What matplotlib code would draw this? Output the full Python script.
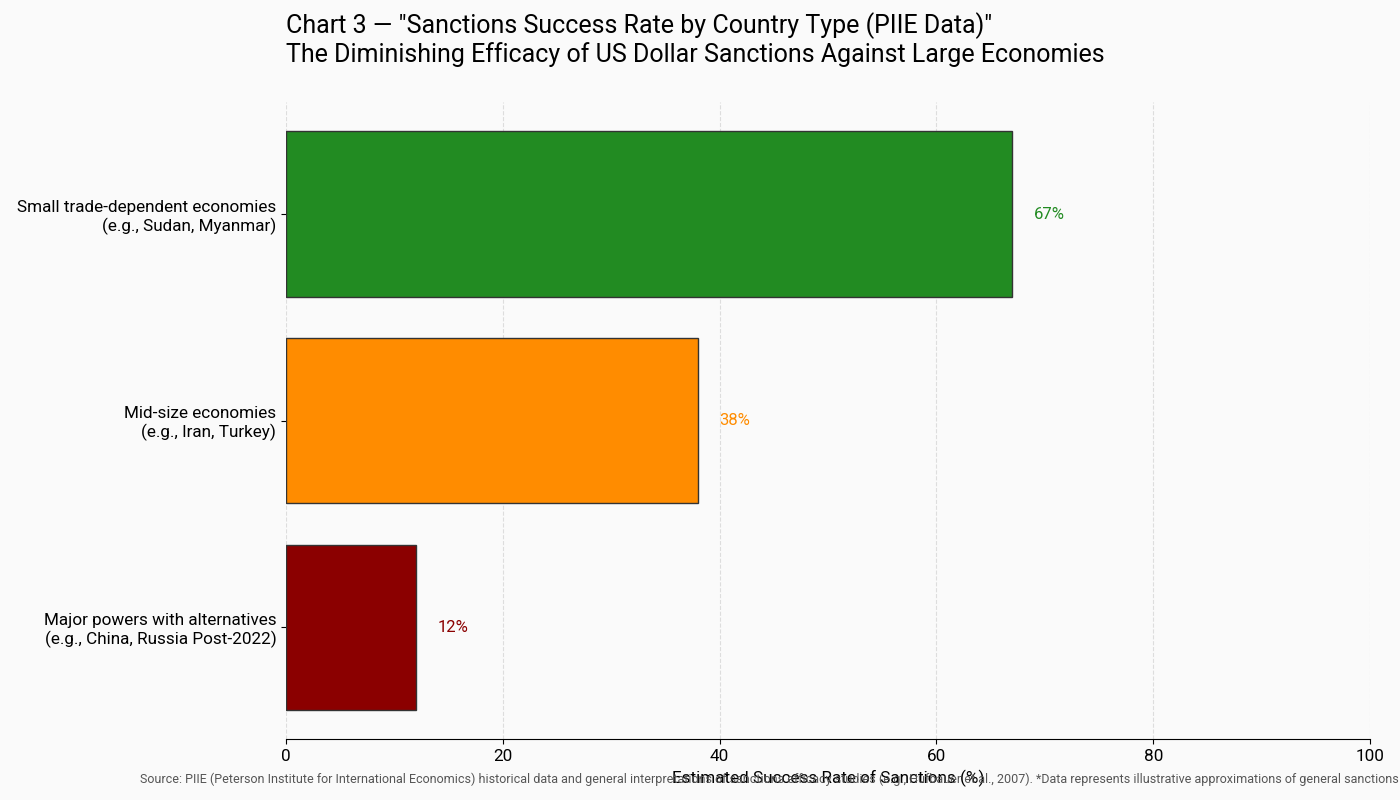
import numpy as np
import matplotlib.pyplot as plt

plt.rcParams['font.family'] = ['Roboto', 'DejaVu Sans']

# Data
categories = [
    "Major powers with alternatives\n(e.g., China, Russia Post-2022)",
    "Mid-size economies\n(e.g., Iran, Turkey)",
    "Small trade-dependent economies\n(e.g., Sudan, Myanmar)",
]
success_rate = [12, 38, 67]
bar_colors = ["#8B0000", "#FF8C00", "#228B22"]

title = ('Chart 3 \u2014 "Sanctions Success Rate by Country Type (PIIE Data)"\n'
         'The Diminishing Efficacy of US Dollar Sanctions Against Large Economies')
source = ("Source: PIIE (Peterson Institute for International Economics) historical data and general "
          "interpretations of sanctions efficacy studies (e.g., Hufbauer et al., 2007). "
          "*Data represents illustrative approximations of general sanctions outcomes.")

bg = "#fafafa"
fig, ax = plt.subplots(figsize=(14, 8), dpi=100)
fig.patch.set_facecolor(bg)
ax.set_facecolor(bg)
fig.subplots_adjust(left=0.2043, right=0.9786, top=0.872, bottom=0.0763)

y = np.arange(len(categories))
ax.barh(y, success_rate, height=0.8, color=bar_colors, edgecolor="#333333", linewidth=1, zorder=3)

for yi, v, c in zip(y, success_rate, bar_colors):
    ax.text(v + 2, yi, f"{v}%", va="center", ha="left", fontsize=12, color=c)

ax.set_yticks(y)
ax.set_yticklabels(categories, fontsize=12.3)
ax.set_xlim(0, 100)
ax.tick_params(axis="x", labelsize=12.3)
ax.set_xlabel("Estimated Success Rate of Sanctions (%)", fontsize=12.3, labelpad=4)

ax.grid(axis="x", linestyle="--", color="#dddddd", linewidth=0.8, zorder=0)
for s in ["top", "right", "left"]:
    ax.spines[s].set_visible(False)

fig.text(0.2043, 0.951, title, fontsize=18, ha="left", va="center", linespacing=1.15)
fig.text(0.1, 0.026, source, fontsize=9.0, color="#555555", ha="left", va="center")

fig.savefig("out.png", facecolor=bg)
